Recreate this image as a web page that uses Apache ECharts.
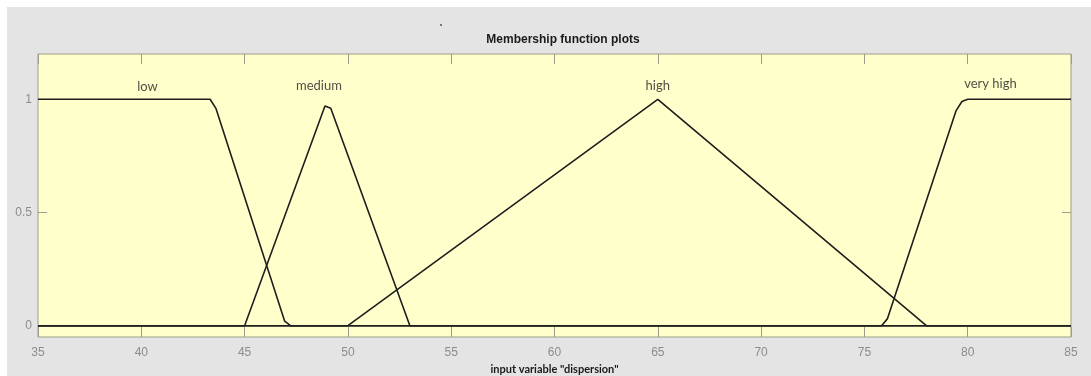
<!DOCTYPE html>
<html>
<head>
<meta charset="utf-8">
<script src="https://cdn.jsdelivr.net/npm/echarts@6/dist/echarts.min.js"></script>
<style>
  html, body { margin: 0; padding: 0; background: #ffffff; }
  #chart { width: 1091px; height: 376px; }
</style>
</head>
<body>
<div id="chart"></div>
<script>
// Membership functions of the input variable "dispersion" (sampled points)
const mfNames = ['low', 'medium', 'high', 'very high'];
const lowMF = [[35, 1], [43.33, 1], [43.61, 0.96], [46.94, 0.02], [47.22, 0], [85, 0]];
const mediumMF = [[35, 0], [45, 0], [48.89, 0.97], [49.17, 0.96], [53, 0], [85, 0]];
const highMF = [[35, 0], [50, 0], [65, 1], [78, 0], [85, 0]];
const veryHighMF = [[35, 0], [75.83, 0], [76.11, 0.03], [79.44, 0.95], [79.72, 0.99], [80, 1], [85, 1]];
// where each name is written above its curve
const labelX = [40.3, 48.6, 65, 81.1];
const labelY = [1.057, 1.06, 1.06, 1.07];
const xTickValues = [35, 40, 45, 50, 55, 60, 65, 70, 75, 80, 85];
const yTickValues = [0, 0.5, 1];

const chart = echarts.init(document.getElementById('chart'), null, { renderer: 'canvas' });

const lineStyle = { color: '#1e1e1e', width: 1.6 };
const mfSeries = [lowMF, mediumMF, highMF, veryHighMF].map((d, i) => ({
  name: mfNames[i],
  type: 'line',
  data: d,
  symbol: 'none',
  lineStyle: lineStyle,
  animation: false,
  z: 3
}));

const labelSeries = {
  type: 'scatter',
  symbolSize: 0,
  silent: true,
  animation: false,
  data: mfNames.map((n, i) => ({ value: [labelX[i], labelY[i]], name: n })),
  label: {
    show: true,
    position: 'inside',
    formatter: p => p.name,
    fontFamily: 'Lato',
    fontSize: 13,
    color: '#222'
  }
};

const tickStyle = { color: '#9d9d8a' };

chart.setOption({
  backgroundColor: '#ffffff',
  animation: false,
  graphic: [
    { type: 'rect', shape: { x: 7, y: 7, width: 1084, height: 369 }, style: { fill: '#e4e4e4' }, z: -10, silent: true },
    { type: 'circle', shape: { cx: 441, cy: 25, r: 0.9 }, style: { fill: '#444' }, silent: true }
  ],
  title: {
    text: 'Membership function plots',
    left: 558,
    textAlign: 'center',
    top: 29,
    textStyle: { fontFamily: 'Liberation Sans', fontWeight: 'bold', fontSize: 12, color: '#1a1a1a' }
  },
  grid: {
    left: 38, right: 20, top: 54, bottom: 39,
    outerBoundsMode: 'none',
    containLabel: false,
    show: true,
    backgroundColor: '#ffffcc',
    borderColor: '#9d9d8a',
    borderWidth: 1
  },
  xAxis: [{
    type: 'value', min: 35, max: 85, interval: 5,
    position: 'bottom',
    name: 'input variable "dispersion"',
    nameLocation: 'middle',
    nameGap: 25,
    nameTextStyle: { fontFamily: 'Lato', fontWeight: 'bold', fontSize: 11, color: '#1a1a1a' },
    axisLine: { show: false, onZero: false },
    axisTick: { show: true, inside: true, length: 10, lineStyle: tickStyle },
    axisLabel: {
      margin: 10, fontFamily: 'Liberation Sans', fontSize: 12, color: '#8c8c8c',
      customValues: xTickValues
    },
    splitLine: { show: false }
  }, {
    type: 'value', min: 35, max: 85, interval: 5,
    position: 'top',
    axisLine: { show: false, onZero: false },
    axisTick: { show: true, inside: true, length: 10, lineStyle: tickStyle },
    axisLabel: { show: false },
    splitLine: { show: false }
  }],
  yAxis: [{
    type: 'value', min: -0.05, max: 1.2,
    position: 'left',
    axisLine: { show: false, onZero: false },
    axisTick: { show: true, inside: true, length: 9, customValues: yTickValues, lineStyle: tickStyle },
    axisLabel: {
      margin: 6, fontFamily: 'Liberation Sans', fontSize: 12, color: '#8c8c8c',
      customValues: yTickValues
    },
    splitLine: { show: false }
  }, {
    type: 'value', min: -0.05, max: 1.2,
    position: 'right',
    axisLine: { show: false, onZero: false },
    axisTick: { show: true, inside: true, length: 9, customValues: yTickValues, lineStyle: tickStyle },
    axisLabel: { show: false },
    splitLine: { show: false }
  }],
  series: mfSeries.concat([labelSeries])
});
</script>
</body>
</html>
